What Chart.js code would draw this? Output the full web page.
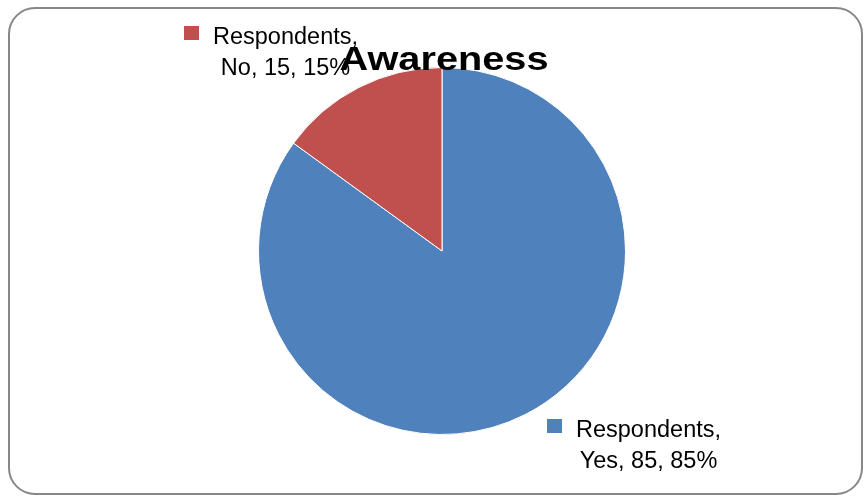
<!DOCTYPE html>
<html>
<head>
<meta charset="utf-8">
<script src="https://cdn.jsdelivr.net/npm/chart.js@4"></script>
<style>
  html, body { margin: 0; padding: 0; background: #fff; }
  #wrap { position: relative; width: 864px; height: 497px; }
</style>
</head>
<body>
<div id="wrap"><canvas id="pieChart" width="864" height="497"></canvas></div>
<script>
const chartTitle = 'Awareness';
const seriesName = 'Respondents';
const categories = ['Yes', 'No'];
const counts = [85, 15];
const sliceColors = ['#4F81BD', '#C0504D'];

// where each data label block starts (marker square top-left)
const labelSpots = [
    { x: 547, y: 419 },
    { x: 184, y: 26 }
];

const frame = {
    id: 'frame',
    beforeDraw(chart) {
        const c = chart.ctx;
        c.save();
        c.fillStyle = '#fff';
        c.fillRect(0, 0, chart.width, chart.height);
        c.strokeStyle = '#878787';
        c.lineWidth = 2;
        c.beginPath();
        c.roundRect(9, 8, 853, 486, 26);
        c.stroke();
        c.restore();
    }
};

// draw text squeezed/stretched to a given width
function fitText(c, str, x, y, width, align) {
    const w = c.measureText(str).width;
    c.save();
    c.translate(x, y);
    c.scale(width / w, 1);
    c.textAlign = align;
    c.fillText(str, 0, 0);
    c.restore();
}

const pieText = {
    id: 'pieText',
    afterDraw(chart) {
        const c = chart.ctx;
        const total = counts.reduce((a, b) => a + b, 0);
        c.save();
        c.textBaseline = 'alphabetic';
        c.font = '23px "Liberation Sans", Arial, sans-serif';
        counts.forEach((v, i) => {
            const p = labelSpots[i];
            const pct = Math.round(v / total * 100) + '%';
            const line1 = seriesName + ',';
            const line2 = categories[i] + ', ' + v + ', ' + pct;
            c.fillStyle = sliceColors[i];
            c.fillRect(p.x, p.y, 15, 14);
            c.fillStyle = '#000';
            const sx = 145 / c.measureText(line1).width;
            fitText(c, line1, p.x + 29, p.y + 18, 145, 'left');
            const w2 = c.measureText(line2).width * sx;
            fitText(c, line2, p.x + 29 + 72.5, p.y + 49, w2, 'center');
        });

        c.font = 'bold 34px "Liberation Sans", Arial, sans-serif';
        c.fillStyle = '#000';
        fitText(c, chartTitle, 444, 70, 209, 'center');
        c.restore();
    }
};

new Chart(document.getElementById('pieChart'), {
    type: 'pie',
    data: {
        labels: categories,
        datasets: [{
            label: seriesName,
            data: counts,
            backgroundColor: sliceColors,
            borderColor: '#fff',
            borderWidth: 1
        }]
    },
    options: {
        responsive: false,
        animation: false,
        layout: { padding: { left: 258, right: 238, top: 67, bottom: 62 } },
        plugins: {
            legend: { display: false },
            title: { display: false },
            tooltip: { enabled: false }
        }
    },
    plugins: [frame, pieText]
});
</script>
</body>
</html>
